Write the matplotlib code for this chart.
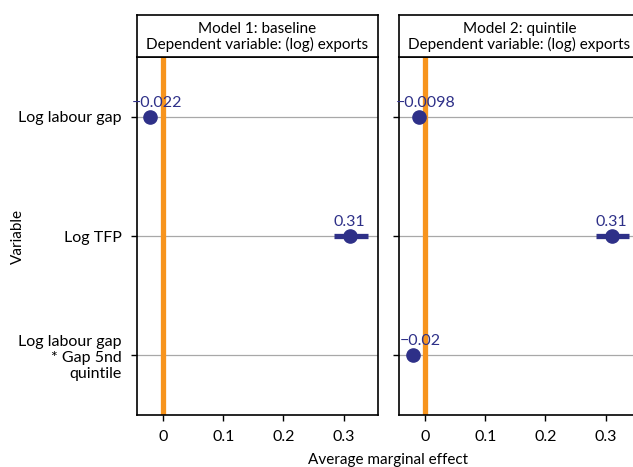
import numpy as np
import matplotlib
matplotlib.use("Agg")
import matplotlib.pyplot as plt

plt.rcParams['font.family'] = ['Lato', 'DejaVu Sans']

variables = ['Log labour gap', 'Log TFP', 'Log labour gap\n* Gap 5nd\nquintile']
panel_titles = ['Model 1: baseline\nDependent variable: (log) exports',
                'Model 2: quintile\nDependent variable: (log) exports']

m1_est = [-0.022, 0.31, np.nan]
m1_lo = [-0.026, 0.284, np.nan]
m1_hi = [-0.018, 0.341, np.nan]
m1_lab = ['\u22120.022', '0.31', '']

m2_est = [-0.0098, 0.31, -0.02]
m2_lo = [-0.013, 0.284, -0.024]
m2_hi = [-0.007, 0.338, -0.017]
m2_lab = ['\u22120.0098', '0.31', '\u22120.02']

xticks = [0, 0.1, 0.2, 0.3]
xticklabels = ['0', '0.1', '0.2', '0.3']

navy = '#2e3088'
orange = '#f7941d'

W, H = 633, 467
fig = plt.figure(figsize=(W / 100, H / 100), dpi=100)


def px_axes(x0, y0, x1, y1):
    return fig.add_axes([x0 / W, 1 - y1 / H, (x1 - x0) / W, (y1 - y0) / H])


models = [(m1_est, m1_lo, m1_hi, m1_lab), (m2_est, m2_lo, m2_hi, m2_lab)]
lefts = [137, 399]
ypos = [3, 2, 1]
fs = 11

for i, (est, lo, hi, lab) in enumerate(models):
    ax = px_axes(lefts[i], 57, lefts[i] + 241, 415)
    ax.set_xlim(-0.0433, 0.357)
    ax.set_ylim(0.5, 3.5)
    for y in ypos:
        ax.axhline(y, color='#a8a8a8', lw=0.9, zorder=1)
    ax.axvline(0, color=orange, lw=3.8, zorder=2)
    for y, e, l, h, t in zip(ypos, est, lo, hi, lab):
        if np.isnan(e):
            continue
        ax.plot([l, h], [y, y], color=navy, lw=3.8, solid_capstyle='butt', zorder=3)
        ax.plot(e, y, 'o', color=navy, ms=9.5, zorder=4)
        ax.annotate(t, (e, y), xytext=(5 if e < 0 else 0, 5), textcoords='offset points',
                    ha='center', va='bottom', color=navy, fontsize=fs + 0.5, zorder=5)
    ax.set_yticks(ypos)
    if i == 0:
        ax.set_yticklabels(variables, fontsize=fs + 0.5, ha='right', linespacing=1.2)
    else:
        ax.set_yticklabels([])
    ax.set_xticks(xticks)
    ax.set_xticklabels(xticklabels, fontsize=fs + 0.5)
    ax.tick_params(length=4, width=1, color='black', pad=7)
    for s in ax.spines.values():
        s.set_color('black')
        s.set_linewidth(1.2)

    st = px_axes(lefts[i], 15, lefts[i] + 241, 57)
    st.set_xticks([])
    st.set_yticks([])
    for s in st.spines.values():
        s.set_color('black')
        s.set_linewidth(1.2)
    st.text(0.5, 0.48, panel_titles[i], ha='center', va='center', fontsize=fs,
            linespacing=1.05, transform=st.transAxes)

fig.text(18 / W, 1 - 236 / H, 'Variable', ha='center', va='center', rotation=90, fontsize=fs)
fig.text(388 / W, 1 - 460 / H, 'Average marginal effect', ha='center', va='center', fontsize=fs)

fig.savefig('out.png', dpi=100)
